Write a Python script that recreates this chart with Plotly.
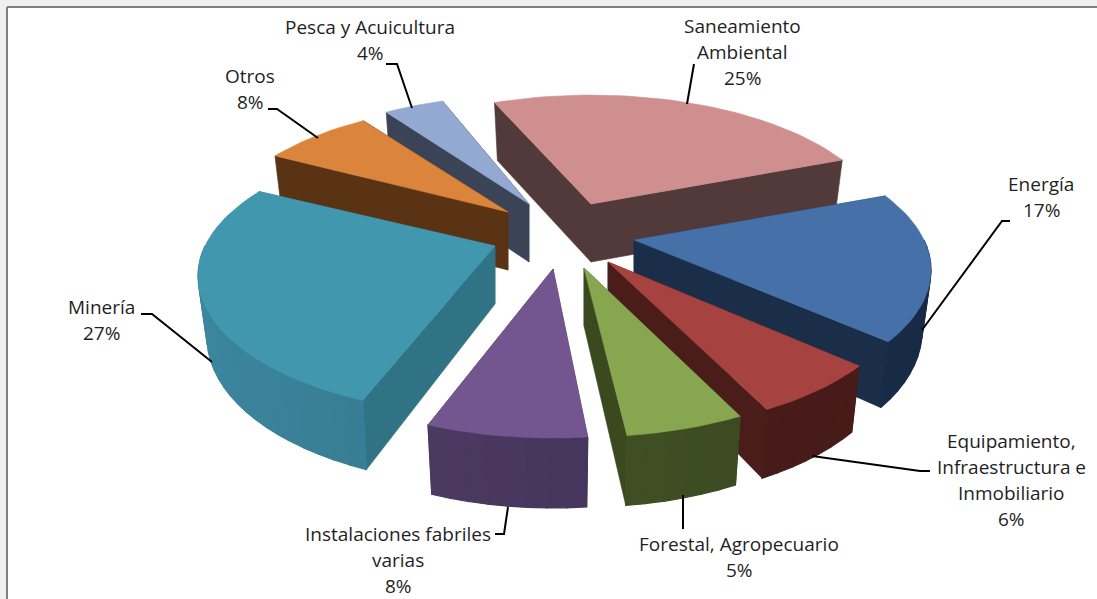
import numpy as np
import plotly.graph_objects as go

categories = ["Saneamiento Ambiental", "Energía", "Equipamiento, Infraestructura e Inmobiliario",
              "Forestal, Agropecuario", "Instalaciones fabriles varias", "Minería", "Otros",
              "Pesca y Acuicultura"]
values = [25, 17, 6, 5, 8, 27, 8, 4]

# explosion anchor of each slice, styling of the exploded view
anchors = [(591, 204), (634, 240), (608, 262), (584, 268), (553, 269), (495, 246), (508, 212), (529, 204)]
top_colors = ["#cf8f8e", "#4671a8", "#a64340", "#88a64f", "#735690", "#4097ae", "#db843c", "#93a9d1"]
face_colors = ["#533a3a", "#1a2e4a", "#4a1c1a", "#3b4a1e", "#4b3a60", "#2f7385", "#5a3315", "#3b4457"]
rim_light = ["#533a3a", "#1c3050", "#4c1e1b", "#4d5f28", "#513e69", "#3c879f", "#5a3315", "#3b4457"]
rim_dark = ["#533a3a", "#182a45", "#451a18", "#354320", "#3d2e50", "#2d6b7d", "#5a3315", "#3b4457"]
draw_order = [7, 0, 6, 5, 1, 2, 4, 3]
# view distortion of the 3-D projection: degrees added to each slice's start and end
warp_start = [-1.5, 1, 3, 3.5, 5.8, 3.8, 3, 1]
warp_end = [1, 2, 3, 4.5, 2.5, 2, 0.5, 1]

labels = [
    ("Saneamiento<br>Ambiental<br>25%", 742, 52),
    ("Energía<br>17%", 1041, 197),
    ("Equipamiento,<br>Infraestructura e<br>Inmobiliario<br>6%", 1011, 479.5),
    ("Forestal, Agropecuario<br>5%", 739, 557),
    ("Instalaciones fabriles<br>varias<br>8%", 398, 560),
    ("Minería<br>27%", 101, 320),
    ("Otros<br>8%", 250, 88.5),
    ("Pesca y Acuicultura<br>4%", 370, 40),
]
leaders = [
    [(694, 64), (687, 104)],
    [(1010, 221), (1002, 221), (922, 330)],
    [(930, 471), (920, 471), (812, 456)],
    [(683, 495), (683, 529)],
    [(495, 534), (504, 534), (508, 507)],
    [(141, 314), (152, 314), (212, 362)],
    [(268, 109), (277, 109), (318, 138)],
    [(386, 64), (397, 64), (412, 108)],
]

START = -22.0
A, B, K = 290.0, 132.5, 0.216
LINE_STEP = 26


def top(anchor, th):
    s, c = np.sin(th), np.cos(th)
    f = 1 / (1 + K * c)
    return anchor[0] + A * s * f, anchor[1] - B * c * f


def bottom(anchor, th):
    x, y = top(anchor, th)
    return anchor[0] + (x - anchor[0]) * 0.97, y + 58 + 12 * max(0.0, -np.cos(th))


def lerp(c1, c2, t):
    a = [int(c1[i:i + 2], 16) for i in (1, 3, 5)]
    b = [int(c2[i:i + 2], 16) for i in (1, 3, 5)]
    return "rgb(%d,%d,%d)" % tuple(round(p + (q - p) * t) for p, q in zip(a, b))


fig = go.Figure()


def poly(pts, color, lw=0.6):
    xs = [p[0] for p in pts] + [pts[0][0]]
    ys = [p[1] for p in pts] + [pts[0][1]]
    fig.add_trace(go.Scatter(x=xs, y=ys, mode="lines", fill="toself", fillcolor=color,
                             line=dict(color=color, width=lw), hoverinfo="skip", showlegend=False))


edges = START + np.concatenate([[0], np.cumsum(values)]) * 360 / sum(values)

for i in draw_order:
    a0 = np.deg2rad(edges[i] + warp_start[i])
    a1 = np.deg2rad(edges[i + 1] + warp_end[i])
    p = anchors[i]
    apex_b = (p[0], p[1] + 58)
    faces = []
    for th in (a0, a1):
        faces.append((top(p, th)[1], [p, top(p, th), bottom(p, th), apex_b]))
    for _, f in sorted(faces, key=lambda q: q[0]):
        poly(f, face_colors[i])
    if a0 < np.pi * 1.5 and a1 > np.pi / 2:
        hi = min(a1, np.pi * 1.5)
        lo = max(a0, np.pi / 2)
        n = max(2, int((hi - lo) / np.deg2rad(3)))
        ts = np.linspace(lo, hi, n + 1)
        for t0, t1 in zip(ts[:-1], ts[1:]):
            sh = (np.sin((t0 + t1) / 2) + 1) / 2
            poly([top(p, t0), top(p, t1), bottom(p, t1), bottom(p, t0)],
                 lerp(rim_light[i], rim_dark[i], sh), lw=1.2)
    ts = np.linspace(a0, a1, max(8, int((a1 - a0) / np.deg2rad(2))))
    poly([p] + [top(p, t) for t in ts], top_colors[i])

for pts in leaders:
    fig.add_trace(go.Scatter(x=[q[0] for q in pts], y=[q[1] for q in pts], mode="lines",
                             line=dict(color="#000000", width=2), hoverinfo="skip", showlegend=False))

for text, x, y in labels:
    rows = text.split("<br>")
    for k, row in enumerate(rows):
        fig.add_annotation(x=x, y=y + (k - (len(rows) - 1) / 2) * LINE_STEP, text=row, showarrow=False,
                           xanchor="center", yanchor="middle",
                           font=dict(family="Open Sans", size=19, color="#1f1f1f"), align="center")

# outer window shade and chart frame
fig.add_shape(type="rect", x0=0, y0=0, x1=1097, y1=6, fillcolor="#f0f0f0", line_width=0, layer="below")
fig.add_shape(type="rect", x0=0, y0=0, x1=6, y1=599, fillcolor="#f0f0f0", line_width=0, layer="below")
fig.add_shape(type="line", x0=7, y0=7, x1=1097, y1=7, line=dict(color="#808080", width=2), layer="above")
fig.add_shape(type="line", x0=7, y0=7, x1=7, y1=599, line=dict(color="#808080", width=2), layer="above")

fig.update_layout(width=1097, height=599, margin=dict(l=0, r=0, t=0, b=0), paper_bgcolor="#ffffff",
                  plot_bgcolor="#ffffff", showlegend=False,
                  xaxis=dict(range=[0, 1097], visible=False, fixedrange=True),
                  yaxis=dict(range=[599, 0], visible=False, fixedrange=True))
fig.write_html("out.html", post_script="document.body.style.margin='0';",
               config={"displayModeBar": False})
